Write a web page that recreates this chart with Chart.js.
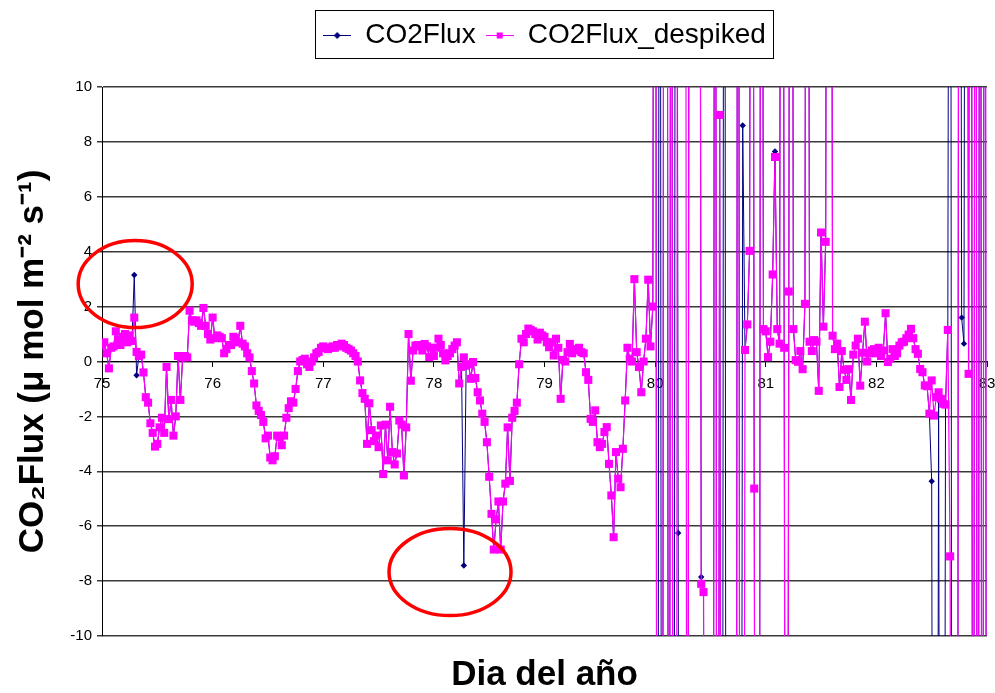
<!DOCTYPE html>
<html>
<head>
<meta charset="utf-8">
<title>CO2Flux</title>
<script src="https://cdn.jsdelivr.net/npm/chart.js@4.4.1/dist/chart.umd.min.js"></script>
<style>
  html, body { margin: 0; padding: 0; background: #fff; }
  #wrap { width: 995px; height: 693px; }
</style>
</head>
<body>
<div id="wrap"><canvas id="fluxChart" width="995" height="693"></canvas></div>
<script>
// half-hourly despiked CO2 flux (umol m-2 s-1), one array per day of year
const day75 = [0.6, 0.7, 0.3, -0.25, 0.5, 0.55, 1.1, 0.8, 0.6, 0.9, 1.0, 0.7, 0.95, 0.75, 1.6, 0.35, 0.2, 0.25, -0.4, -1.3, -1.5, -2.25, -2.6, -3.1, -3.0, -2.4, -2.05, -2.6, -0.2, -2.1, -1.4, -2.7, -2.0, 0.2, -1.4, 0.15, 0.2, 0.15, 1.85, 1.5, 1.45, 1.5, 1.4, 1.3, 1.95, 1.3, 1.0, 0.8];
const day76 = [1.6, 0.85, 0.95, 0.9, 0.85, 0.3, 0.45, 0.6, 0.6, 0.9, 0.85, 0.7, 1.3, 0.65, 0.55, 0.3, 0.15, -0.35, -0.8, -1.6, -1.8, -1.95, -2.2, -2.8, -2.7, -3.5, -3.6, -3.45, -2.7, -2.75, -3.05, -2.7, -2.05, -1.7, -1.45, -1.5, -1.0, -0.35, 0.0, 0.05, 0.1, -0.1, -0.2, 0.0, 0.15, 0.3, 0.35, 0.5];
const day77 = [0.55, 0.5, 0.45, 0.5, 0.55, 0.5, 0.6, 0.55, 0.65, 0.6, 0.5, 0.45, 0.4, 0.3, 0.2, 0.0, -0.69, -1.15, -1.36, -3.0, -1.52, -2.5, -2.9, -2.7, -3.12, -2.33, -4.1, -2.3, -3.6, -1.65, -3.3, -3.75, -3.35, -2.15, -2.3, -4.15, -2.4, 1.0, -0.7, 0.4, 0.58, 0.6, 0.55, 0.4, 0.64, 0.55, 0.16, 0.5];
const day78 = [0.2, 0.5, 0.83, 0.6, 0.3, 0.04, 0.2, 0.3, 0.45, 0.58, 0.7, -0.8, -0.2, 0.15, -0.15, -0.1, -0.63, -0.02, -0.6, -1.12, -1.42, -1.9, -2.2, -2.94, -4.2, -5.55, -6.85, -5.75, -5.1, -6.85, -5.1, -4.45, -2.4, -4.35, -2.05, -1.8, -1.5, -0.1, 0.83, 0.7, 1.0, 1.2, 1.15, 1.1, 1.0, 0.8, 1.05, 0.95];
const day79 = [0.9, 0.7, 0.52, 0.7, 0.22, 0.83, 0.5, -1.36, 0.06, 0.0, 0.34, 0.64, 0.3, 0.45, 0.4, 0.5, 0.34, 0.3, -0.39, -0.67, -2.09, -2.2, -1.78, -2.94, -3.12, -3.0, -2.57, -2.39, -3.73, -4.88, -6.4, -3.3, -4.27, -4.58, -3.18, -1.42, 0.5, 0.1, 0.0, 3.0, 0.34, -0.2, -1.12, 0.0, 0.83, 2.98, 0.55, 2.0];
const day80 = [50, -50, -50, -50, 50, 50, -50, 50, -50, -50, 50, 50, 50, 50, -50, 50, 50, 50, 50, 50, -8.1, -8.4, -50, -50, -50, -50, 50, -50, 8.98, -50, -50, -50, -50, -50, -50, -50, 50, -50, -50, 0.42, 1.35, 4.03, 50, -4.63, -50, -50, 50, 1.18];
const day81 = [1.1, 0.16, 0.72, 3.17, 7.45, 1.18, 0.65, 50, 0.5, -50, 2.55, 50, 1.18, 0.05, -0.01, 0.38, -0.28, 2.1, 50, 0.72, 0.38, 0.78, 0.72, -1.07, 4.7, 1.27, 4.36, 50, 50, 0.94, 0.45, 0.65, -0.93, 0.38, -0.3, -0.67, -0.28, -1.4, 0.25, 0.58, 0.83, -0.88, 0.32, 1.45, 0.0, 0.3, 0.4, 0.45];
const day82 = [0.3, 0.5, 0.2, 0.4, 1.76, -0.02, 0.1, 0.45, 0.2, 0.3, 0.58, 0.7, 0.72, 0.85, 0.98, 1.19, 0.85, 0.45, 0.28, -0.27, -0.39, -0.87, -0.9, -1.9, -0.69, -1.97, -1.3, -1.12, -1.36, -1.54, -1.57, 1.15, -7.1, -50, -50, -50, 50, 50, 50, 50, -0.45, 50, -50, 50, -50, 50, -50, 50];
const day83 = [-50];

// slots where the raw CO2Flux reading differs from the despiked one: [slot, value]
const rawReadings = [
  [14, 3.15], [15, -0.5], [157, -7.43],
  [242, 50], [249, 50], [250, -6.25], [251, -50], [252, -50], [253, -50],
  [260, -7.85], [270, 50], [278, 8.6], [292, 7.65],
  [360, -4.36], [361, -50], [362, -50], [364, -50], [365, -50],
  [368, 50], [373, 1.6], [374, 0.65]
];

// spikes circled on the plot: [day, flux]
const circledSpikes = [[75.3, 2.82], [78.146, -7.67]];

const firstDay = 75;
const slotsPerDay = 48;
const yTicks = { min: -10, max: 10, step: 2 };
const xTicks = { min: 75, max: 83, step: 1 };

const despiked = [].concat(day75, day76, day77, day78, day79, day80, day81, day82, day83);
const raw = despiked.slice();
rawReadings.forEach(([slot, v]) => { raw[slot] = v; });

const toPoints = values => values.map((v, i) => ({ x: firstDay + i / slotsPerDay, y: v }));

Chart.defaults.font.family = '"Liberation Sans", Arial, sans-serif';
Chart.defaults.color = '#000';

// little line+marker swatches for the legend
function swatch(color, shape) {
  const c = document.createElement('canvas');
  c.width = 28; c.height = 12;
  const g = c.getContext('2d');
  g.strokeStyle = color;
  g.fillStyle = color;
  g.lineWidth = 1;
  g.beginPath(); g.moveTo(0, 6.5); g.lineTo(28, 6.5); g.stroke();
  g.beginPath();
  if (shape === 'diamond') {
    g.moveTo(14, 3); g.lineTo(17.5, 6.5); g.lineTo(14, 10); g.lineTo(10.5, 6.5);
    g.closePath(); g.fill();
  } else {
    g.fillRect(11, 3.5, 6, 6);
  }
  return c;
}
const swatches = [swatch('#000080', 'diamond'), swatch('#ff00ff', 'square')];

const legendFrame = {
  id: 'legendFrame',
  afterDraw(chart) {
    const boxes = chart.legend && chart.legend.legendHitBoxes;
    if (!boxes || !boxes.length) return;
    const left = Math.min(...boxes.map(b => b.left)) - 8;
    const right = Math.max(...boxes.map(b => b.left + b.width)) + 7;
    const top = boxes[0].top - 11;
    const bottom = boxes[0].top + boxes[0].height + 9;
    const ctx = chart.ctx;
    ctx.save();
    ctx.strokeStyle = '#000';
    ctx.lineWidth = 1;
    ctx.strokeRect(Math.round(left) + 0.5, Math.round(top) + 0.5, Math.round(right - left), Math.round(bottom - top));
    ctx.restore();
  }
};

const spikeRings = {
  id: 'spikeRings',
  afterDatasetsDraw(chart, args, opts) {
    const { ctx, scales: { x, y } } = chart;
    ctx.save();
    ctx.strokeStyle = opts.color;
    ctx.lineWidth = opts.width;
    circledSpikes.forEach(([day, flux], i) => {
      ctx.beginPath();
      ctx.ellipse(x.getPixelForValue(day), y.getPixelForValue(flux), opts.rx[i], opts.ry, 0, 0, Math.PI * 2);
      ctx.stroke();
    });
    ctx.restore();
  }
};

new Chart(document.getElementById('fluxChart'), {
  type: 'line',
  data: {
    datasets: [
      {
        label: 'CO2Flux',
        data: toPoints(raw),
        borderColor: '#000080',
        backgroundColor: '#000080',
        borderWidth: 1,
        pointStyle: 'rectRot',
        pointRadius: 3.2,
        pointBorderWidth: 0,
        order: 1
      },
      {
        label: 'CO2Flux_despiked',
        data: toPoints(despiked),
        borderColor: '#ff00ff',
        backgroundColor: '#ff00ff',
        borderWidth: 1.2,
        pointStyle: 'rect',
        pointRadius: 5.7,
        pointBorderWidth: 0,
        order: 0
      }
    ]
  },
  options: {
    responsive: false,
    animation: false,
    devicePixelRatio: 1,
    events: [],
    layout: { padding: { top: 11, left: 0, right: 0, bottom: 0 } },
    scales: {
      x: {
        type: 'linear',
        min: xTicks.min,
        max: xTicks.max,
        position: { y: 0 },
        ticks: { stepSize: xTicks.step, font: { size: 15 }, padding: 8 },
        grid: { drawOnChartArea: false, drawTicks: true, tickLength: 5, color: '#000' },
        border: { color: '#000', width: 1 },
        // keep the plot running out to the right edge
        afterFit(scale) { scale.paddingRight = 8; }
      },
      y: {
        min: yTicks.min,
        max: yTicks.max,
        ticks: { stepSize: yTicks.step, font: { size: 15 }, padding: 5 },
        grid: { color: '#3a3a3a', lineWidth: 1.5, tickLength: 5 },
        border: { color: '#000', width: 1 },
        title: {
          display: true,
          text: 'CO₂Flux (μ mol m⁻² s⁻¹)',
          font: { size: 35, weight: 'bold' },
          padding: { top: 12, bottom: 0 }
        },
        afterFit(scale) { scale.width = 102; }
      }
    },
    plugins: {
      tooltip: { enabled: false },
      legend: {
        position: 'top',
        fullSize: false,
        labels: {
          usePointStyle: true,
          pointStyleWidth: 28,
          padding: 10,
          font: { size: 28 },
          sort: (a, b) => a.datasetIndex - b.datasetIndex,
          generateLabels(chart) {
            const items = Chart.defaults.plugins.legend.labels.generateLabels(chart);
            items.forEach(item => { item.pointStyle = swatches[item.datasetIndex]; });
            return items;
          }
        }
      },
      // gap between the legend and the plot
      subtitle: {
        display: true,
        text: '',
        position: 'top',
        fullSize: false,
        weight: 500,
        font: { size: 1, lineHeight: 1 },
        padding: { top: 27, bottom: 0 }
      },
      title: {
        display: true,
        text: 'Dia del año',
        position: 'bottom',
        fullSize: false,
        font: { size: 35, weight: 'bold', lineHeight: 1 },
        padding: { top: 22, bottom: 0 }
      },
      spikeRings: { color: '#ff0000', width: 3.5, rx: [57, 61], ry: 43.5 }
    }
  },
  plugins: [legendFrame, spikeRings]
});
</script>
</body>
</html>
